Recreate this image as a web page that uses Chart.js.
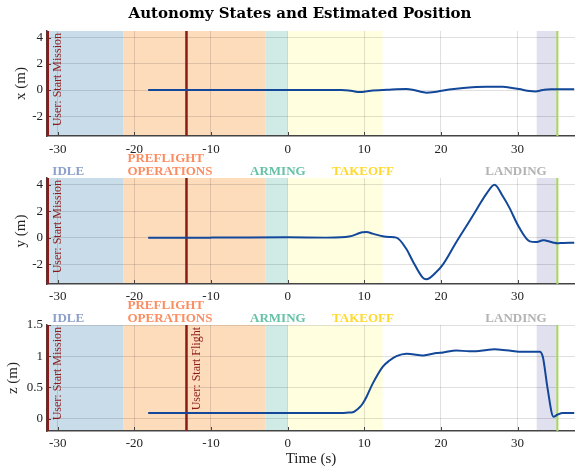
<!DOCTYPE html>
<html>
<head>
<meta charset="utf-8">
<script src="https://cdn.jsdelivr.net/npm/chart.js@4.4.1/dist/chart.umd.min.js"></script>
<style>
  body { margin: 0; background: #fff; }
  #wrap { position: relative; width: 575px; height: 470px; }
  canvas { position: absolute; left: 0; }
</style>
</head>
<body>
<div id="wrap">
  <canvas id="panelX" width="575" height="156" style="top:0"></canvas>
  <canvas id="panelY" width="575" height="156" style="top:146px"></canvas>
  <canvas id="panelZ" width="575" height="178" style="top:292px"></canvas>
</div>
<script>
// time stamps (s) and estimated position per axis (m)
var time = [-18.2, -10, 0, 5, 7, 8, 8.5, 9.4, 9.8, 10.3, 11.1, 12.4, 13.3, 14.2, 15.5, 16.3, 17.6, 18.1, 19.4, 20.3,
            22, 23.7, 24.6, 26, 27, 28.1, 28.9, 30.2, 31.6, 32.4, 32.9, 33.3, 33.5, 33.9, 34.7, 35.2, 35.9, 37.4];
var posX = [0, 0, 0, 0, 0, -0.03, -0.08, -0.15, -0.14, -0.1, -0.03, 0, 0.03, 0.06, 0.08, 0.03, -0.15, -0.2, -0.12, -0.03,
            0.1, 0.2, 0.23, 0.25, 0.25, 0.25, 0.2, 0.08, -0.08, -0.1, -0.05, 0, 0.03, 0.05, 0.06, 0.07, 0.07, 0.07];
var posY = [0, 0, 0.02, 0, 0.02, 0.08, 0.15, 0.35, 0.4, 0.42, 0.3, 0.1, 0.05, 0, -0.86, -1.74, -3.0, -3.15, -2.6, -2.0,
            -0.35, 1.22, 2.07, 3.36, 4.0, 3.1, 2.3, 0.78, -0.28, -0.33, -0.27, -0.2, -0.2, -0.25, -0.38, -0.43, -0.4, -0.38];
var posZ = [0.09, 0.09, 0.09, 0.09, 0.09, 0.095, 0.1, 0.18, 0.24, 0.35, 0.56, 0.83, 0.93, 1.0, 1.04, 1.03, 1.01, 1.02, 1.05, 1.06,
            1.09, 1.08, 1.08, 1.1, 1.11, 1.1, 1.09, 1.07, 1.07, 1.07, 1.07, 0.99, 0.85, 0.5, 0.03, 0.06, 0.09, 0.09];

var timeTicks = [-30, -20, -10, 0, 10, 20, 30];
var xyTicks = [-2, 0, 2, 4];
var zTicks = [0, 0.5, 1, 1.5];

// autonomy states
var stateNames = ['IDLE', ['PREFLIGHT', 'OPERATIONS'], 'ARMING', 'TAKEOFF', 'LANDING'];
var stateStart = [-31.4, -21.4, -2.85, 0, 32.5];
var stateEnd = [-21.4, -2.85, 0, 12.4, 35.2];
var stateLabelAt = [-30.7, -20.9, -4.9, 5.8, 25.8];
var stateText = ['#8da0cb', '#fc8d62', '#66c2a5', '#ffd92f', '#b3b3b3'];
var stateFill = ['#c9dcea', '#fddcbc', '#d0ebe6', '#ffffe0', '#e0e0ee'];

// user events
var eventTimes = [-31.3, -13.2];
var eventNames = ['User: Start Mission', 'User: Start Flight'];
var landedTime = 35.2;

var serif = '"Liberation Serif", "DejaVu Serif", serif';
var red = '#8b1a1a';

var statesPlugin = {
  id: 'states',
  beforeDraw: function(chart) {
    var ctx = chart.ctx, a = chart.chartArea, x = chart.scales.x;
    ctx.save();
    ctx.beginPath();
    ctx.rect(a.left, a.top, a.right - a.left, a.bottom - a.top);
    ctx.clip();
    for (var i = 0; i < stateStart.length; i++) {
      var x0 = x.getPixelForValue(stateStart[i]);
      var x1 = x.getPixelForValue(stateEnd[i]);
      ctx.fillStyle = stateFill[i];
      ctx.fillRect(x0, a.top, x1 - x0, a.bottom - a.top);
    }
    ctx.restore();
  },
  beforeDatasetsDraw: function(chart) {
    var ctx = chart.ctx, a = chart.chartArea, x = chart.scales.x, y = chart.scales.y;
    ctx.save();
    // inward ticks
    ctx.strokeStyle = '#444';
    ctx.lineWidth = 1;
    x.ticks.forEach(function(t) {
      var px = Math.round(x.getPixelForValue(t.value)) + 0.5;
      ctx.beginPath(); ctx.moveTo(px, a.bottom); ctx.lineTo(px, a.bottom - 4); ctx.stroke();
    });
    y.ticks.forEach(function(t) {
      var py = Math.round(y.getPixelForValue(t.value)) + 0.5;
      ctx.beginPath(); ctx.moveTo(a.left, py); ctx.lineTo(a.left + 4, py); ctx.stroke();
    });
    // event lines
    ctx.strokeStyle = red;
    ctx.lineWidth = 2.5;
    eventTimes.forEach(function(t) {
      var px = x.getPixelForValue(t);
      ctx.beginPath(); ctx.moveTo(px, a.top); ctx.lineTo(px, a.bottom); ctx.stroke();
    });
    var gx = x.getPixelForValue(landedTime);
    ctx.strokeStyle = '#a6d854';
    ctx.lineWidth = 2;
    ctx.beginPath(); ctx.moveTo(gx, a.top); ctx.lineTo(gx, a.bottom); ctx.stroke();
    ctx.restore();
  },
  afterDraw: function(chart, args, opts) {
    var ctx = chart.ctx, a = chart.chartArea, x = chart.scales.x;
    ctx.save();
    // rotated event texts
    ctx.fillStyle = red;
    ctx.font = '12px ' + serif;
    ctx.textAlign = 'right';
    ctx.textBaseline = 'middle';
    for (var i = 0; i < opts.events; i++) {
      ctx.save();
      ctx.translate(x.getPixelForValue(eventTimes[i]) + 10, a.top + 2);
      ctx.rotate(-Math.PI / 2);
      ctx.fillText(eventNames[i], 0, 0);
      ctx.restore();
    }
    // state names above the panel
    if (opts.labels) {
      ctx.font = 'bold 13px ' + serif;
      ctx.textAlign = 'left';
      ctx.textBaseline = 'alphabetic';
      stateNames.forEach(function(name, i) {
        var lines = Array.isArray(name) ? name : [name];
        var px = x.getPixelForValue(stateLabelAt[i]);
        ctx.fillStyle = stateText[i];
        for (var k = 0; k < lines.length; k++) {
          ctx.fillText(lines[k], px, a.top - 3 - (lines.length - 1 - k) * 13);
        }
      });
    }
    if (opts.title) {
      ctx.fillStyle = '#000';
      ctx.font = 'bold 15px "DejaVu Serif", serif';
      ctx.textAlign = 'center';
      ctx.textBaseline = 'middle';
      ctx.fillText(opts.title, 300, 14);
    }
    ctx.restore();
  }
};

function makePanel(id, values, yMin, yMax, yTicks, yTitle, padTop, xHeight, tickPad, extra) {
  var points = time.map(function(t, i) { return { x: t, y: values[i] }; });
  var xScale = {
    type: 'linear', min: -31.4, max: 37.5,
    afterBuildTicks: function(s) { s.ticks = timeTicks.map(function(v) { return { value: v }; }); },
    afterFit: function(s) { s.height = xHeight; s.paddingLeft = 0; s.paddingRight = 0; },
    grid: { color: 'rgba(0,0,0,0.12)', drawTicks: false },
    border: { color: '#444', width: 1.5 },
    ticks: { padding: tickPad, color: '#222', font: { family: serif, size: 13 }, maxRotation: 0 }
  };
  if (extra.xTitle) {
    xScale.title = { display: true, text: extra.xTitle, color: '#222', font: { family: serif, size: 15 }, padding: { top: 0, bottom: 2 } };
  }
  return new Chart(document.getElementById(id), {
    type: 'line',
    data: {
      datasets: [{
        data: points,
        borderColor: '#12479a',
        borderWidth: 2,
        pointRadius: 0,
        cubicInterpolationMode: 'monotone',
        fill: false
      }]
    },
    options: {
      responsive: false,
      animation: false,
      layout: { padding: { top: padTop, left: 0, right: 0, bottom: 0 } },
      plugins: {
        legend: { display: false },
        tooltip: { enabled: false },
        states: { labels: extra.labels, events: extra.events, title: extra.title }
      },
      scales: {
        x: xScale,
        y: {
          min: yMin, max: yMax,
          afterBuildTicks: function(s) { s.ticks = yTicks.map(function(v) { return { value: v }; }); },
          afterFit: function(s) { s.width = 47; },
          grid: { color: 'rgba(0,0,0,0.12)', drawTicks: false },
          border: { color: '#444', width: 1.5 },
          ticks: { padding: 4, color: '#222', font: { family: serif, size: 13 },
                   callback: function(v) { return String(v); } },
          title: { display: true, text: yTitle, color: '#222', font: { family: serif, size: 15 },
                   padding: { top: extra.titlePad, bottom: 0 } }
        }
      }
    },
    plugins: [statesPlugin]
  });
}

makePanel('panelX', posX, -3.5, 4.5, xyTicks, 'x (m)', 31, 20, 6,
  { labels: false, events: 1, title: 'Autonomy States and Estimated Position', titlePad: 12 });
makePanel('panelY', posY, -3.5, 4.5, xyTicks, 'y (m)', 32, 18, 5,
  { labels: true, events: 1, titlePad: 12 });
makePanel('panelZ', posZ, -0.2, 1.5, zTicks, 'z (m)', 33, 39, 5,
  { labels: true, events: 2, xTitle: 'Time (s)', titlePad: 4 });
</script>
</body>
</html>
